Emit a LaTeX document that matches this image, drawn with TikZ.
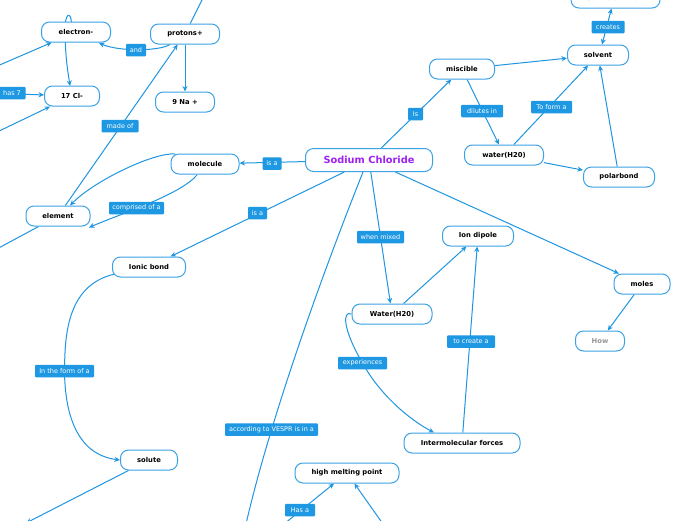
\documentclass[tikz,border=0pt]{standalone}
\usepackage{fontspec}
\setmainfont{DejaVu Sans}
\usetikzlibrary{arrows.meta,backgrounds}
\definecolor{eblue}{RGB}{30,150,225}
\definecolor{nblue}{RGB}{60,162,230}
\definecolor{lblue}{RGB}{30,152,226}
\definecolor{scpurple}{RGB}{160,32,240}
\definecolor{howgrey}{RGB}{150,150,150}
\tikzset{
  box/.style={draw=nblue, line width=1pt, fill=white, rounded corners=8pt,
    minimum height=20pt, inner sep=0pt, text=black,
    font=\bfseries\fontsize{6.8}{8}\selectfont},
  lbl/.style={fill=lblue, text=white, inner sep=0pt, minimum height=12.5pt,
    rounded corners=1pt, font=\fontsize{6.5}{8}\selectfont},
  conn/.style={draw=eblue, line width=1pt},
  arr/.style={conn, -{Stealth[length=5.5pt,width=5pt]}},
  dblarr/.style={conn, {Stealth[length=5.5pt,width=5pt]}-{Stealth[length=5.5pt,width=5pt]}}
}
\begin{document}
\begin{tikzpicture}[x=1pt,y=-1pt]
\useasboundingbox (0,0) rectangle (696,520);
\clip (0,0) rectangle (696,520);
% nodes
\node[box, minimum width=127pt, minimum height=23pt, text=scpurple, font=\bfseries\fontsize{9.8}{11}\selectfont] (sc) at (369,160) {Sodium Chloride};
\node[box, minimum width=69pt] (electron) at (76,32) {electron-};
\node[box, minimum width=69pt] (protons) at (185,34) {protons+};
\node[box, minimum width=55pt] (cl) at (72,96) {17 Cl-};
\node[box, minimum width=59pt] (na) at (185,102) {9 Na +};
\node[box, minimum width=65pt] (miscible) at (462,69) {miscible};
\node[box, minimum width=61pt] (solvent) at (598,55) {solvent};
\node[box, minimum width=89pt] (saline) at (615.5,-2) {saline solution};
\node[box, minimum width=79pt] (waterA) at (504,155) {water(H20)};
\node[box, minimum width=71pt] (polar) at (619,177) {polarbond};
\node[box, minimum width=68pt] (molecule) at (205,164) {molecule};
\node[box, minimum width=64pt] (element) at (58,216) {element};
\node[box, minimum width=73pt] (ionic) at (149,267) {Ionic bond};
\node[box, minimum width=71pt] (dipole) at (478,236) {Ion dipole};
\node[box, minimum width=56pt] (moles) at (642,284) {moles};
\node[box, minimum width=49pt, text=howgrey] (how) at (600,341) {How};
\node[box, minimum width=80pt] (waterB) at (392,314) {Water(H20)};
\node[box, minimum width=116pt] (inter) at (462,443) {Intermolecular forces};
\node[box, minimum width=104pt] (hmp) at (347,473) {high melting point};
\node[box, minimum width=57pt] (solute) at (149,460) {solute};
% labels
\node[lbl, minimum width=20pt] (land) at (136,50) {and};
\node[lbl, minimum width=27pt] (lhas) at (12,93) {has 7};
\node[lbl, minimum width=37pt] (lmade) at (120,126) {made of};
\node[lbl, minimum width=15pt] (lis) at (415.5,114) {Is};
\node[lbl, minimum width=42pt] (ldil) at (482,111) {dilutes in};
\node[lbl, minimum width=41pt] (lform) at (551.5,107) {To form a};
\node[lbl, minimum width=33pt] (lcre) at (608,27) {creates};
\node[lbl, minimum width=19pt] (lisa) at (272,163.5) {is a};
\node[lbl, minimum width=55pt] (lcomp) at (136.5,208) {comprised of a};
\node[lbl, minimum width=19pt] (lisb) at (257.5,213) {is a};
\node[lbl, minimum width=47pt] (lmix) at (380.5,237) {when mixed};
\node[lbl, minimum width=48pt] (lcreate) at (471,341.5) {to create a};
\node[lbl, minimum width=49pt] (lexp) at (362.5,363) {experiences};
\node[lbl, minimum width=59pt] (lform2) at (64.5,371) {In the form of a};
\node[lbl, minimum width=93pt] (lvespr) at (271.5,429.5) {according to VESPR is in a};
\node[lbl, minimum width=30pt] (lhasa) at (300,510) {Has a};
% free ends
\coordinate (offBottom) at (246,524);
\coordinate (offTop) at (204,-4);
\coordinate (offHas) at (-10,93);
\coordinate (offE) at (-5,67);
\coordinate (offCl) at (-5,133);
\coordinate (offEl) at (-5,250);
\coordinate (offSol) at (26,523);
\coordinate (offH1) at (284,524);
\coordinate (offH2) at (383,524);
\begin{pgfonlayer}{background}
\fill[white] (0,0) rectangle (696,520);
\draw[arr] (sc) -- (molecule);
\draw[arr] (sc) -- (ionic);
\draw[arr] (sc) -- (miscible);
\draw[arr] (sc) -- (moles);
\draw[arr] (sc) -- (waterB);
\draw[conn] (363,172) .. controls (320,280) and (270,420) .. (offBottom);
\draw[arr] (miscible) -- (solvent);
\draw[arr] (miscible) -- (waterA);
\draw[arr] (waterA) -- (solvent);
\draw[arr] (waterA) -- (polar);
\draw[arr] (polar) -- (solvent);
\draw[dblarr] ([xshift=4pt]solvent.north) -- ([xshift=-4pt]saline.south);
\draw[arr] (waterB) -- (dipole);
\draw[arr] (inter) -- (dipole);
\draw[arr] (waterB.west) .. controls (342,310) and (343,330) .. (lexp.center)
   .. controls (380,395) and (410,420) .. (434,432.5);
\draw[arr] (moles) -- (how);
\draw[arr] (element) -- (protons);
\draw[arr] (protons) -- (na);
\draw[conn] (protons) -- (offTop);
\draw[arr] (170,44.5) .. controls (160,51) and (120,52) .. (99,43);
\draw[arr] (71.5,23) .. controls (71,11) and (64.5,12) .. (65,32) .. controls (65.5,60) and (68,72) .. (70,86);
\draw[arr] (offHas) -- (cl);
\draw[arr] (offE) -- (electron);
\draw[arr] (offCl) -- (cl);
\draw[conn] (element) -- (offEl);
\draw[arr] (175,154) .. controls (155,152) and (95,180) .. (70,205.5);
\draw[arr] (197,175) .. controls (180,195) and (120,214) .. (89,227.5);
\draw[arr] (115,274) .. controls (65,285) and (65,340) .. (lform2.center)
   .. controls (65,420) and (80,455) .. (120,460);
\draw[arr] (solute) -- (offSol);
\draw[arr] (offH1) -- (hmp);
\draw[arr] (offH2) -- (hmp);
\end{pgfonlayer}
\end{tikzpicture}
\end{document}
